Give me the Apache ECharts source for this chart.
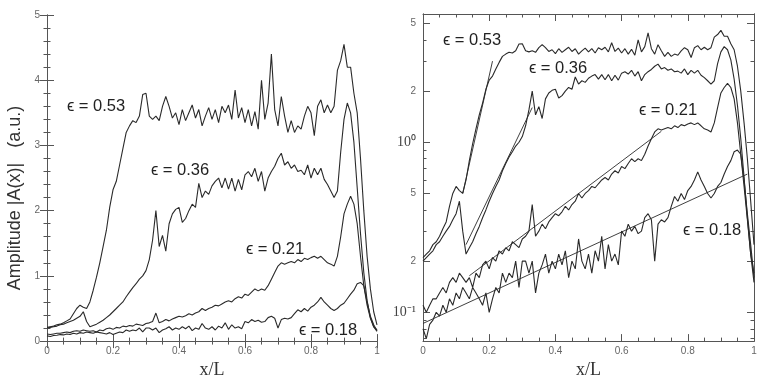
<!DOCTYPE html>
<html>
<head>
<meta charset="utf-8">
<script src="https://cdn.jsdelivr.net/npm/echarts@6/dist/echarts.min.js"></script>
<style>
  html, body { margin: 0; padding: 0; background: #fff; }
  #chart { width: 763px; height: 384px; }
</style>
</head>
<body>
<div id="chart"></div>
<script>
// positions along the channel, x/L
const xs = [
  0.00, 0.01, 0.02, 0.03, 0.04, 0.05, 0.06, 0.07, 0.08, 0.09,
  0.10, 0.11, 0.12, 0.13, 0.14, 0.15, 0.16, 0.17, 0.18, 0.19,
  0.20, 0.21, 0.22, 0.23, 0.24, 0.25, 0.26, 0.27, 0.28, 0.29,
  0.30, 0.31, 0.32, 0.33, 0.34, 0.35, 0.36, 0.37, 0.38, 0.39,
  0.40, 0.41, 0.42, 0.43, 0.44, 0.45, 0.46, 0.47, 0.48, 0.49,
  0.50, 0.51, 0.52, 0.53, 0.54, 0.55, 0.56, 0.57, 0.58, 0.59,
  0.60, 0.61, 0.62, 0.63, 0.64, 0.65, 0.66, 0.67, 0.68, 0.69,
  0.70, 0.71, 0.72, 0.73, 0.74, 0.75, 0.76, 0.77, 0.78, 0.79,
  0.80, 0.81, 0.82, 0.83, 0.84, 0.85, 0.86, 0.87, 0.88, 0.89,
  0.90, 0.91, 0.92, 0.93, 0.94, 0.95, 0.96, 0.97, 0.98, 0.99, 1.00
];

// amplitude |A(x)| for each epsilon
const amp053 = [
  0.21, 0.22, 0.23, 0.25, 0.26, 0.28, 0.31, 0.34, 0.42, 0.50,
  0.55, 0.52, 0.50, 0.60, 0.78, 0.98, 1.20, 1.45, 1.70, 2.05,
  2.32, 2.45, 2.70, 2.95, 3.20, 3.30, 3.38, 3.35, 3.45, 3.78,
  3.80, 3.45, 3.40, 3.45, 3.38, 3.60, 3.75, 3.60, 3.42, 3.50,
  3.32, 3.55, 3.38, 3.50, 3.62, 3.42, 3.55, 3.30, 3.45, 3.58,
  3.40, 3.55, 3.35, 3.60, 3.50, 3.62, 3.40, 3.85, 3.42, 3.58,
  3.35, 3.55, 3.30, 3.52, 3.25, 4.00, 3.40, 3.65, 4.40, 3.55,
  3.30, 3.75, 3.45, 3.20, 3.38, 3.20, 3.30, 3.25, 3.45, 3.60,
  3.50, 3.15, 3.60, 3.70, 3.50, 3.62, 3.50, 3.60, 4.15, 4.30,
  4.55, 4.20, 4.20, 3.80, 3.50, 2.80, 2.00, 1.30, 0.80, 0.45, 0.25
];
const amp036 = [
  0.20, 0.21, 0.22, 0.23, 0.25, 0.26, 0.28, 0.30, 0.32, 0.35,
  0.38, 0.45, 0.30, 0.22, 0.24, 0.26, 0.29, 0.32, 0.36, 0.40,
  0.45, 0.50, 0.55, 0.60, 0.68, 0.75, 0.82, 0.88, 0.95, 1.00,
  1.08, 1.25, 1.55, 2.00, 1.45, 1.62, 1.38, 1.80, 1.95, 2.02,
  2.05, 1.82, 1.88, 2.00, 2.10, 2.05, 2.42, 2.20, 2.30, 2.25,
  2.38, 2.45, 2.50, 2.35, 2.50, 2.33, 2.50, 2.30, 2.48, 2.32,
  2.55, 2.60, 2.52, 2.65, 2.45, 2.60, 2.30, 2.50, 2.60, 2.68,
  2.80, 2.88, 2.70, 2.75, 2.65, 2.70, 2.60, 2.62, 2.55, 2.70,
  2.50, 2.65, 2.55, 2.65, 2.48, 2.40, 2.30, 2.20, 2.30, 2.90,
  3.40, 3.65, 3.50, 3.05, 2.35, 1.65, 1.05, 0.62, 0.36, 0.22, 0.17
];
const amp021 = [
  0.11, 0.10, 0.11, 0.12, 0.12, 0.13, 0.14, 0.13, 0.15, 0.16,
  0.15, 0.17, 0.16, 0.15, 0.16, 0.14, 0.17, 0.16, 0.19, 0.20,
  0.18, 0.21, 0.20, 0.23, 0.22, 0.24, 0.23, 0.26, 0.25, 0.24,
  0.27, 0.28, 0.30, 0.43, 0.28, 0.30, 0.33, 0.31, 0.34, 0.36,
  0.38, 0.37, 0.39, 0.42, 0.40, 0.43, 0.45, 0.50, 0.47, 0.50,
  0.52, 0.55, 0.54, 0.57, 0.60, 0.62, 0.60, 0.65, 0.68, 0.66,
  0.72, 0.70, 0.75, 0.80, 0.77, 0.80, 0.78, 0.85, 0.95, 1.05,
  1.15, 1.20, 1.18, 1.20, 1.22, 1.20, 1.25, 1.22, 1.27, 1.25,
  1.28, 1.30, 1.27, 1.30, 1.25, 1.20, 1.18, 1.15, 1.30, 1.60,
  1.95, 2.10, 2.22, 2.10, 1.80, 1.30, 0.85, 0.55, 0.35, 0.22, 0.15
];
const amp018 = [
  0.080, 0.070, 0.085, 0.090, 0.100, 0.095, 0.110, 0.100, 0.120, 0.110,
  0.130, 0.120, 0.140, 0.130, 0.120, 0.140, 0.130, 0.120, 0.110, 0.130,
  0.100, 0.120, 0.140, 0.130, 0.170, 0.150, 0.170, 0.160, 0.200, 0.140,
  0.200, 0.200, 0.170, 0.200, 0.130, 0.170, 0.190, 0.220, 0.170, 0.200,
  0.180, 0.220, 0.190, 0.230, 0.160, 0.200, 0.180, 0.270, 0.200, 0.180,
  0.220, 0.170, 0.230, 0.200, 0.280, 0.180, 0.250, 0.200, 0.220, 0.190,
  0.300, 0.280, 0.330, 0.300, 0.320, 0.290, 0.300, 0.360, 0.380, 0.350,
  0.200, 0.330, 0.350, 0.340, 0.360, 0.420, 0.480, 0.450, 0.500, 0.460,
  0.520, 0.550, 0.600, 0.670, 0.600, 0.550, 0.500, 0.470, 0.500, 0.550,
  0.580, 0.650, 0.720, 0.780, 0.880, 0.900, 0.850, 0.600, 0.380, 0.250, 0.160
];

// exponential fits shown on the log panel (end points)
const fitX053 = [0.12, 0.21];
const fitY053 = [0.50, 3.00];
const fitX036 = [0.13, 0.33];
const fitY036 = [0.25, 1.60];
const fitX021 = [0.14, 0.72];
const fitY021 = [0.164, 1.16];
const fitX018 = [0.00, 0.98];
const fitY018 = [0.086, 0.65];

const epsLabels = ['ϵ = 0.53', 'ϵ = 0.36', 'ϵ = 0.21', 'ϵ = 0.18'];
const logMajor = [0.1, 0.2, 0.5, 1, 2, 5];
const logMinor = [0.07, 0.08, 0.09, 0.3, 0.4, 0.6, 0.7, 0.8, 0.9, 3, 4];

const ink = '#2a2a2a';
const axisInk = '#555';

function pairs(x, y) {
  return x.map((v, i) => [v, y[i]]);
}

const curves = [amp053, amp036, amp021, amp018];
const fits = [[fitX053, fitY053], [fitX036, fitY036], [fitX021, fitY021], [fitX018, fitY018]];

function lineSeries(data, xi, yi) {
  return {
    type: 'line', data: data, xAxisIndex: xi, yAxisIndex: yi,
    showSymbol: false, symbol: 'none', silent: true,
    lineStyle: { color: ink, width: 1.1 }
  };
}

function xAx(grid, pos, labels, name) {
  return {
    type: 'value', gridIndex: grid, position: pos, min: 0, max: 1, interval: 0.2,
    name: name || '', nameLocation: 'middle', nameGap: 13,
    nameTextStyle: { fontFamily: 'Liberation Serif', fontSize: 18, color: '#333' },
    axisLine: { show: true, lineStyle: { color: axisInk, width: 1 } },
    axisTick: { show: true, inside: true, length: 7, lineStyle: { color: axisInk } },
    minorTick: { show: true, splitNumber: 4, length: 3.5, lineStyle: { color: axisInk } },
    axisLabel: {
      show: labels, margin: 5, fontFamily: 'Liberation Sans', fontSize: 10, color: '#666',
      formatter: v => (v === 0 || v === 1) ? String(v) : v.toFixed(1)
    },
    splitLine: { show: false }
  };
}

function linY(pos, labels) {
  return {
    type: 'value', gridIndex: 0, position: pos, min: 0, max: 5, interval: 1,
    axisLine: { show: true, lineStyle: { color: axisInk, width: 1 } },
    axisTick: { show: true, inside: true, length: 7, lineStyle: { color: axisInk } },
    minorTick: { show: true, splitNumber: 5, length: 3.5, lineStyle: { color: axisInk } },
    axisLabel: { show: labels, margin: 7, fontFamily: 'Liberation Sans', fontSize: 10, color: '#666' },
    splitLine: { show: false }
  };
}

function logY(pos, ticks, len, labels) {
  return {
    type: 'log', gridIndex: 1, position: pos, logBase: 10, min: 0.0677, max: 5.68,
    axisLine: { show: true, lineStyle: { color: axisInk, width: 1 } },
    axisTick: { show: true, inside: true, length: len, customValues: ticks, lineStyle: { color: axisInk } },
    axisLabel: {
      show: labels, customValues: logMajor, margin: 7, color: '#555',
      formatter: v => {
        if (Math.abs(v - 0.1) < 1e-9) return '{p|10⁻¹}';
        if (Math.abs(v - 1) < 1e-9) return '{p|10⁰}';
        return '{n|' + String(Math.round(v * 10) % 10 === 0 ? Math.round(v) : Math.round(v * 10)) + '}';
      },
      rich: {
        p: { fontFamily: 'Liberation Serif', fontSize: 14, color: '#444' },
        n: { fontFamily: 'Liberation Sans', fontSize: 10, color: '#666' }
      }
    },
    splitLine: { show: false }
  };
}

const series = [];
curves.forEach(c => series.push(lineSeries(pairs(xs, c), 0, 0)));
curves.forEach(c => series.push(lineSeries(pairs(xs, c), 2, 2)));
fits.forEach(f => {
  const s = lineSeries(pairs(f[0], f[1]), 2, 2);
  s.lineStyle.width = 0.9;
  series.push(s);
});

function epsText(txt, x, y) {
  return {
    type: 'text', x: x, y: y, silent: true,
    style: {
      text: txt, fontFamily: 'Liberation Sans', fontSize: 16.5, fill: '#222',
      align: 'center', verticalAlign: 'middle'
    }
  };
}

const chart = echarts.init(document.getElementById('chart'), null, { renderer: 'canvas' });
chart.setOption({
  animation: false,
  backgroundColor: '#fff',
  grid: [
    { left: 47, right: 386, top: 15, bottom: 42 },
    { left: 423, right: 9, top: 14, bottom: 41 }
  ],
  xAxis: [
    xAx(0, 'bottom', true, 'x/L'),
    xAx(0, 'top', false),
    xAx(1, 'bottom', true, 'x/L'),
    xAx(1, 'top', false)
  ],
  yAxis: [
    linY('left', true),
    linY('right', false),
    logY('left', logMajor, 7, true),
    logY('left', logMinor, 3.5, false),
    logY('right', logMajor, 7, false),
    logY('right', logMinor, 3.5, false)
  ],
  series: series,
  graphic: [
    {
      type: 'text', x: 15, y: 198, rotation: Math.PI / 2, silent: true,
      style: {
        text: 'Amplitude |A(x)|   (a.u.)', fontFamily: 'Liberation Sans', fontSize: 18,
        fill: '#333', align: 'center', verticalAlign: 'middle'
      }
    },
    epsText(epsLabels[0], 96, 106),
    epsText(epsLabels[1], 180, 170),
    epsText(epsLabels[2], 275, 249),
    epsText(epsLabels[3], 328, 330),
    epsText(epsLabels[0], 472, 40),
    epsText(epsLabels[1], 558, 68),
    epsText(epsLabels[2], 668, 110),
    epsText(epsLabels[3], 712, 230)
  ]
});
</script>
</body>
</html>
